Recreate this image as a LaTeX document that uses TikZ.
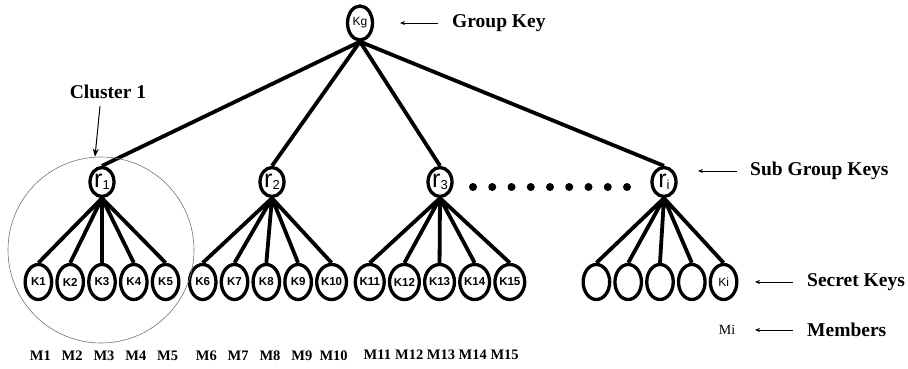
\documentclass[tikz,border=0pt]{standalone}
\usepackage{fontspec}
\setmainfont{Liberation Serif}
\setsansfont{Liberation Sans}
\usepackage{tikz}
\usetikzlibrary{positioning, arrows.meta, shapes.geometric, matrix}

\newcommand{\subkey}[1]{{\fontsize{25}{25}\selectfont r}\raisebox{-1.5pt}{\fontsize{13}{13}\selectfont #1}}

\begin{document}
\begin{tikzpicture}[
    x=1pt, y=-1pt,
    key/.style={ellipse, draw, line width=3.3pt, inner sep=0pt, anchor=center, font=\sffamily\bfseries\fontsize{11.5}{11.5}\selectfont},
    groupkey/.style={key, minimum width=25pt, minimum height=34pt, font=\sffamily\fontsize{12}{12}\selectfont},
    subkey/.style={key, minimum width=24pt, minimum height=29pt, font=\sffamily},
    leaf/.style={key, minimum width=26.5pt, minimum height=35pt},
    leafrow/.style={matrix of nodes, nodes=leaf, column sep=2pt},
    member/.style={inner sep=0pt, anchor=center, font=\bfseries\fontsize{14.5}{14.5}\selectfont},
    memrow/.style={matrix of nodes, nodes={member, minimum width=29.8pt}, column sep=2pt},
    legend/.style={font=\bfseries\fontsize{19.5}{20}\selectfont, anchor=west, inner sep=0pt},
    edge/.style={line width=3.8pt},
    pointer/.style={-{Stealth[length=5pt, width=4pt]}, line width=0.6pt},
    cluster/.style={circle, draw=black!55, line width=0.6pt, minimum size=186pt, inner sep=0pt}
]
\useasboundingbox (0,0) rectangle (908,369);

% keys
\node[groupkey] (kg) at (360,23) {Kg};
\node[subkey] (r1) at (102,182) {\subkey{1}};
\node[subkey] (r2) at (272,182) {\subkey{2}};
\node[subkey] (r3) at (440,182) {\subkey{3}};
\node[subkey] (ri) at (664,182) {\subkey{i}};

\matrix (g1) [leafrow] at (102,282) {K1 & K2 & K3 & K4 & K5 \\};
\matrix (g2) [leafrow] at (268,282) {K6 & K7 & K8 & K9 & K10 \\};
\matrix (g3) [leafrow] at (440,282) {K11 & K12 & K13 & K14 & K15 \\};
\matrix (g4) [leafrow, nodes in empty cells] at (660,282) { & & & & |[font=\sffamily\fontsize{12}{12}\selectfont]| Ki \\};

% members
\matrix (w1) [memrow] at (104,356) {M1 & M2 & M3 & M4 & M5 \\};
\matrix (w2) [memrow] at (270,356) {M6 & M7 & M8 & M9 & M10 \\};
\matrix (w3) [memrow] at (441,355) {M11 & M12 & M13 & M14 & M15 \\};
\node[font=\fontsize{14}{14}\selectfont, inner sep=0pt] (mi) at (727,330) {Mi};

% tree
\draw[edge] (kg.south) -- (r1.north) (kg.south) -- (r2.north)
            (kg.south) -- (r3.north) (kg.south) -- (ri.north);
\draw[edge] (r1.south) -- (g1-1-1.north) (r1.south) -- (g1-1-2.north) (r1.south) -- (g1-1-3.north)
            (r1.south) -- (g1-1-4.north) (r1.south) -- (g1-1-5.north);
\draw[edge] (r2.south) -- (g2-1-1.north) (r2.south) -- (g2-1-2.north) (r2.south) -- (g2-1-3.north)
            (r2.south) -- (g2-1-4.north) (r2.south) -- (g2-1-5.north);
\draw[edge] (r3.south) -- (g3-1-1.north) (r3.south) -- (g3-1-2.north) (r3.south) -- (g3-1-3.north)
            (r3.south) -- (g3-1-4.north) (r3.south) -- (g3-1-5.north);
\draw[edge] (ri.south) -- (g4-1-1.north) (ri.south) -- (g4-1-2.north) (ri.south) -- (g4-1-3.north)
            (ri.south) -- (g4-1-4.north) (ri.south) -- (g4-1-5.north);

% dots between r3 and ri
\draw[line width=8pt, line cap=round, dash pattern=on 0pt off 19.25pt] (473,187) -- (628,187);

% cluster
\node[cluster] (c1) at (101,250) {};
\node[legend, anchor=center] (cl) at (108,92) {Cluster 1};
\draw[pointer, line width=1pt, -{Stealth[length=8pt, width=6pt]}] ([xshift=-8pt, yshift=-7pt]cl.south) -- ([xshift=-6pt]c1.north);

% legend
\node[legend] (gk) at (452,23) {Group Key};
\node[legend] (sk) at (750,171) {Sub Group Keys};
\node[legend] (ck) at (807,282) {Secret Keys};
\node[legend] (mk) at (807,330) {Members};
\draw[pointer] ([xshift=-14pt]gk.west) -- ([xshift=-52pt]gk.west);
\draw[pointer] ([xshift=-13pt]sk.west) -- ([xshift=-52pt]sk.west);
\draw[pointer] ([xshift=-14pt]ck.west) -- ([xshift=-52pt]ck.west);
\draw[pointer] ([xshift=-14pt]mk.west) -- ([xshift=-52pt]mk.west);
\end{tikzpicture}
\end{document}
